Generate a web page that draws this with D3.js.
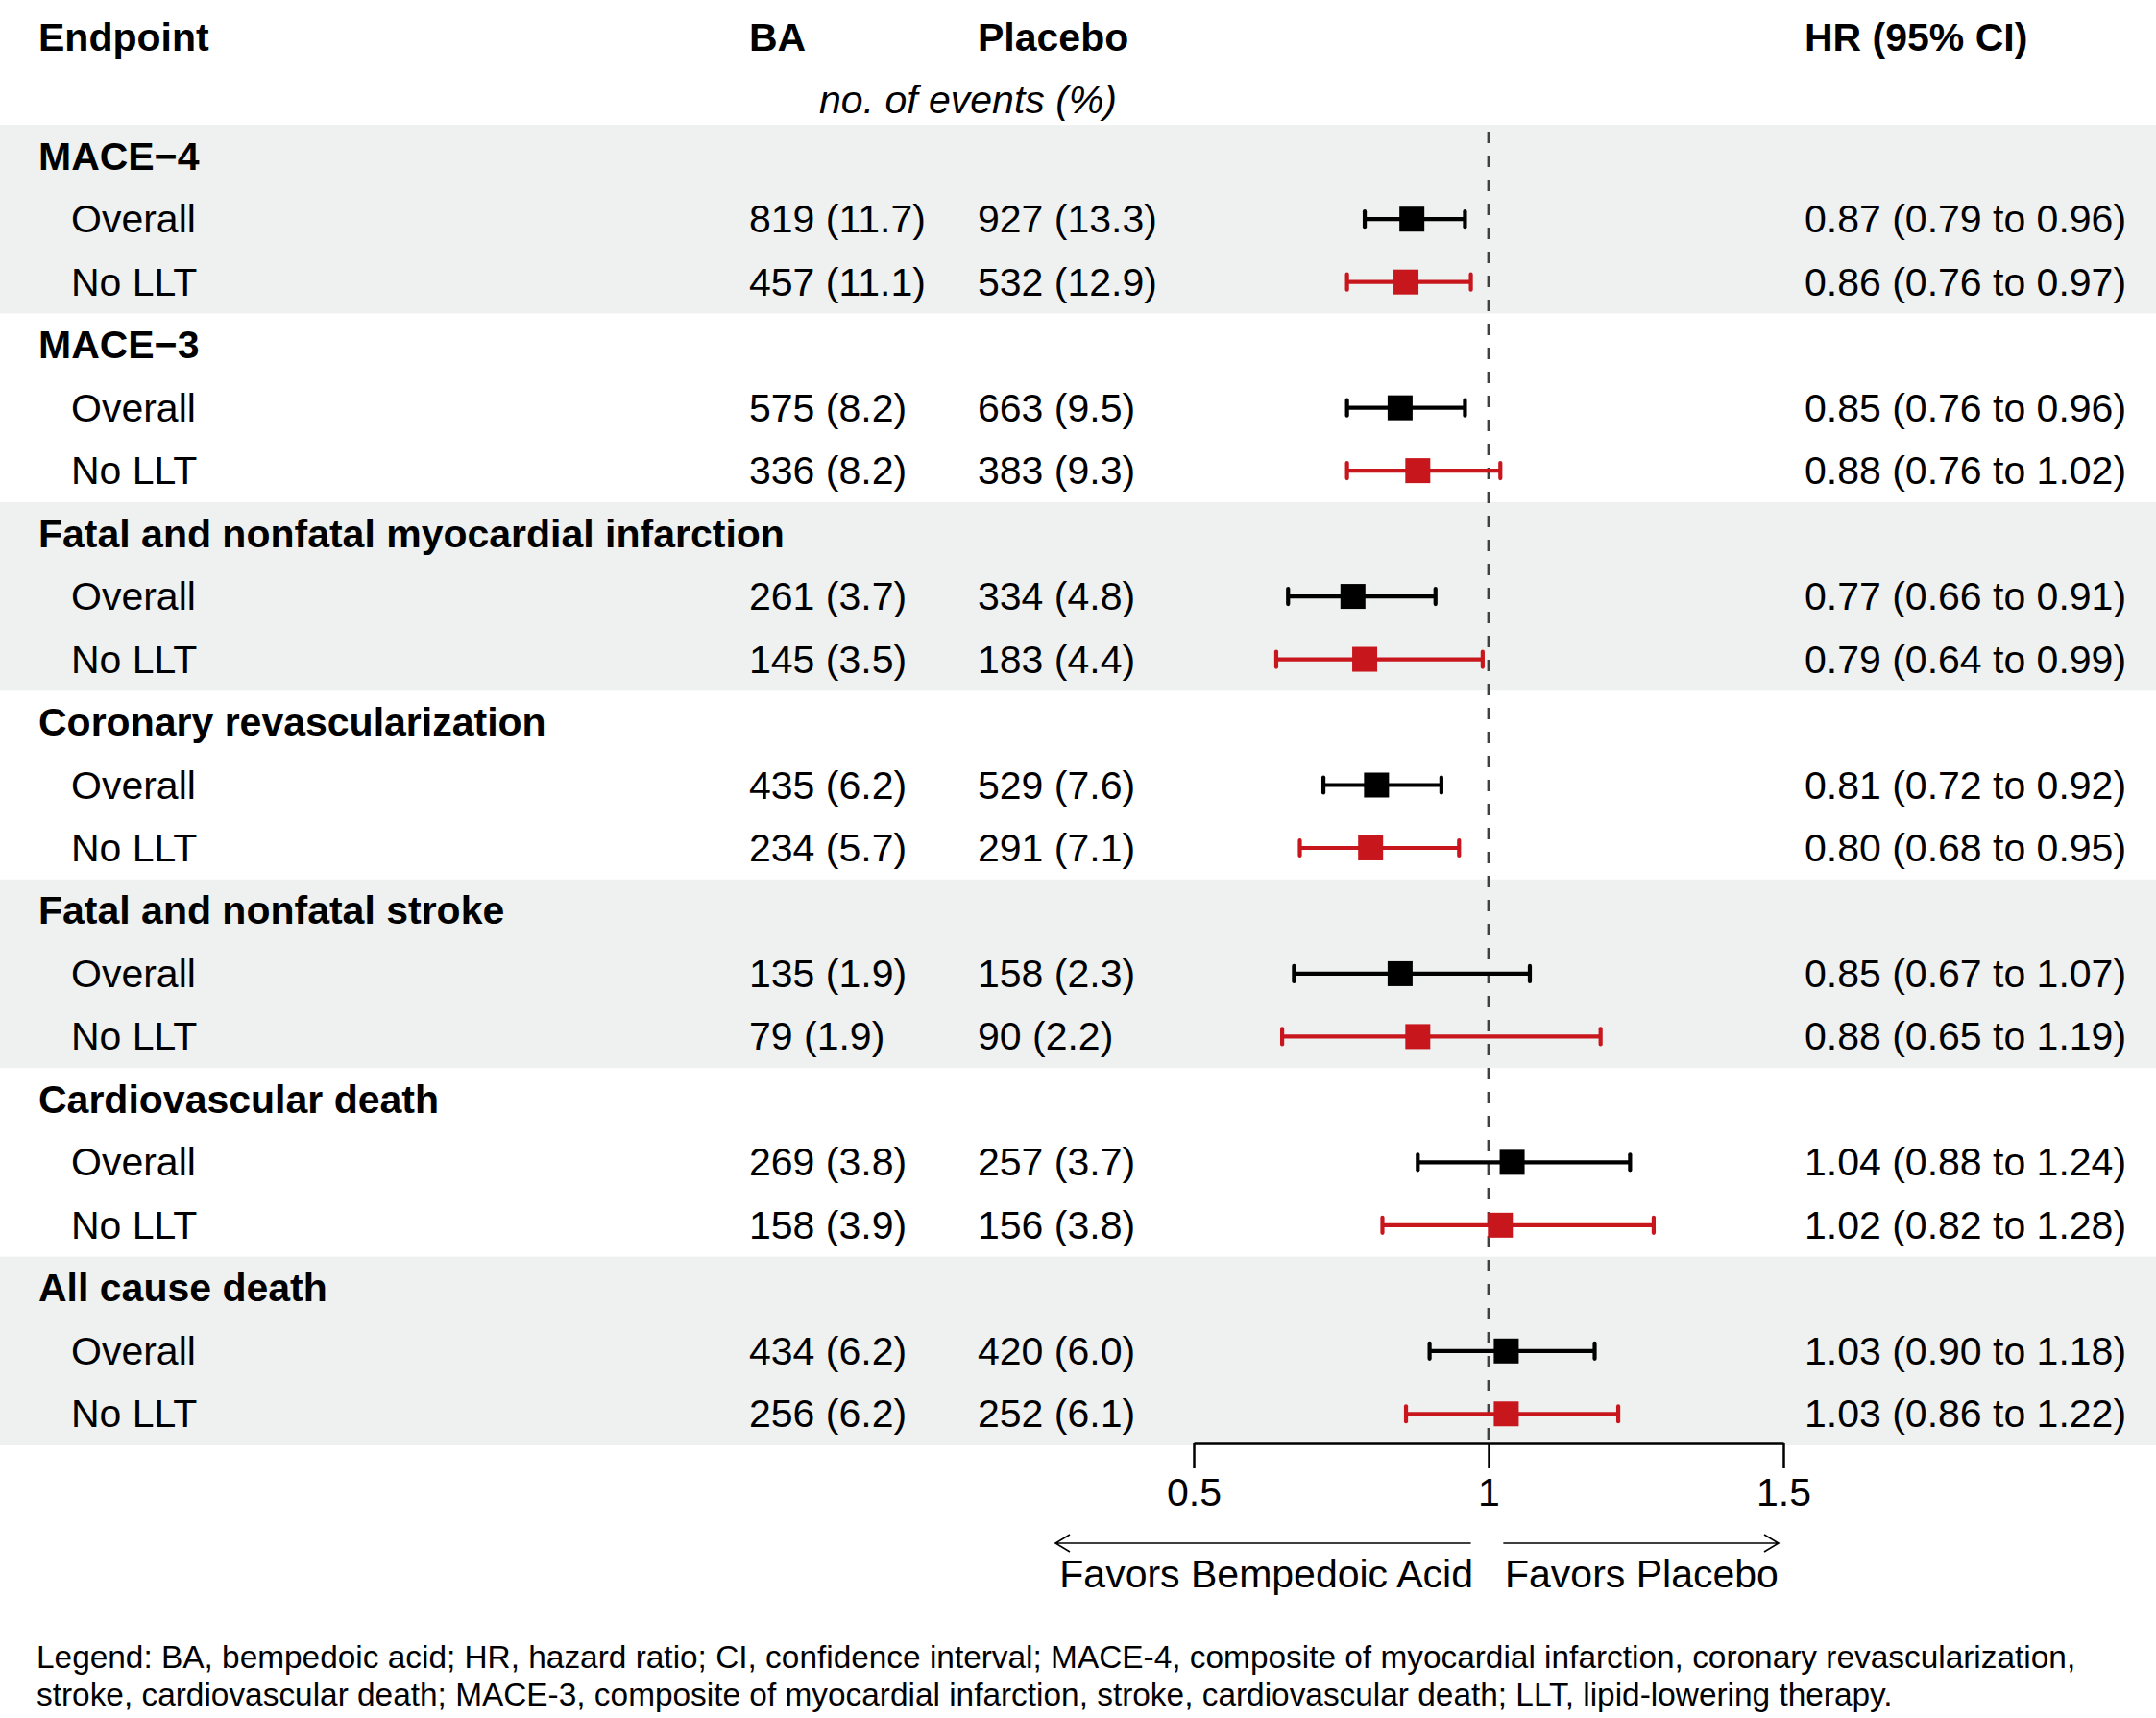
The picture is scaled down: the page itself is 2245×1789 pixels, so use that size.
<!DOCTYPE html>
<html>
<head>
<meta charset="utf-8">
<script src="https://cdn.jsdelivr.net/npm/d3@7"></script>
<style>
  body { margin: 0; background: #fff; }
  text { font-family: "Liberation Sans", Arial, Helvetica, sans-serif; }
</style>
</head>
<body>
<div id="vis"></div>
<script>
// endpoints and subgroups
const endpoints = [
  "MACE\u22124",
  "MACE\u22123",
  "Fatal and nonfatal myocardial infarction",
  "Coronary revascularization",
  "Fatal and nonfatal stroke",
  "Cardiovascular death",
  "All cause death"
];
const subgroups = ["Overall", "No LLT"];

// no. of events (%), two values per endpoint: Overall, No LLT
const baEvents = [[819, 457], [575, 336], [261, 145], [435, 234], [135, 79], [269, 158], [434, 256]];
const baPct = [[11.7, 11.1], [8.2, 8.2], [3.7, 3.5], [6.2, 5.7], [1.9, 1.9], [3.8, 3.9], [6.2, 6.2]];
const plEvents = [[927, 532], [663, 383], [334, 183], [529, 291], [158, 90], [257, 156], [420, 252]];
const plPct = [[13.3, 12.9], [9.5, 9.3], [4.8, 4.4], [7.6, 7.1], [2.3, 2.2], [3.7, 3.8], [6.0, 6.1]];

// hazard ratios and 95% CI
const hr = [[0.87, 0.86], [0.85, 0.88], [0.77, 0.79], [0.81, 0.80], [0.85, 0.88], [1.04, 1.02], [1.03, 1.03]];
const ciLow = [[0.79, 0.76], [0.76, 0.76], [0.66, 0.64], [0.72, 0.68], [0.67, 0.65], [0.88, 0.82], [0.90, 0.86]];
const ciHigh = [[0.96, 0.97], [0.96, 1.02], [0.91, 0.99], [0.92, 0.95], [1.07, 1.19], [1.24, 1.28], [1.18, 1.22]];

const ticks = [0.5, 1, 1.5];
const legendLines = [
  "Legend: BA, bempedoic acid; HR, hazard ratio; CI, confidence interval; MACE-4, composite of myocardial infarction, coronary revascularization,",
  "stroke, cardiovascular death; MACE-3, composite of myocardial infarction, stroke, cardiovascular death; LLT, lipid-lowering therapy."
];

function createVis() {
  const width = 2245;
  const height = 1789;
  const fs = 41;
  const red = "#c8161d";

  const svg = d3.select("#vis")
    .append("svg")
    .attr("width", width)
    .attr("height", height)
    .attr("viewBox", [0, 0, width, height]);

  // build the table rows: a header row for every endpoint, then its subgroups
  const rows = [];
  endpoints.forEach((name, g) => {
    rows.push({ type: "head", g, label: name });
    subgroups.forEach((s, k) => {
      rows.push({
        type: "sub", g, k, label: s,
        ba: `${baEvents[g][k]} (${baPct[g][k].toFixed(1)})`,
        pl: `${plEvents[g][k]} (${plPct[g][k].toFixed(1)})`,
        hr: hr[g][k], lo: ciLow[g][k], hi: ciHigh[g][k],
        color: k === 0 ? "#000" : red
      });
    });
  });

  const y = d3.scaleBand()
    .domain(d3.range(rows.length))
    .range([130, 1505])
    .paddingInner(0);
  const bw = y.bandwidth();
  const cy = i => y(i) + bw / 2;

  const x = d3.scaleLinear()
    .domain([0.5, 1.5])
    .range([1243, 1857]);

  // shaded bands for alternating endpoints
  svg.append("g")
    .selectAll("rect")
    .data(endpoints.map((d, g) => g).filter(g => g % 2 === 0))
    .join("rect")
    .attr("x", 0)
    .attr("width", width)
    .attr("y", g => y(g * 3))
    .attr("height", bw * 3)
    .attr("fill", "#eef1f0");

  // column headers
  const head = svg.append("g")
    .attr("font-size", fs)
    .attr("font-weight", "bold");
  head.append("text").attr("x", 40).attr("y", 53).text("Endpoint");
  head.append("text").attr("x", 780).attr("y", 53).text("BA");
  head.append("text").attr("x", 1018).attr("y", 53).text("Placebo");
  head.append("text").attr("x", 1879).attr("y", 53).text("HR (95% CI)");
  svg.append("text")
    .attr("x", 1008).attr("y", 118)
    .attr("text-anchor", "middle")
    .attr("font-size", fs)
    .attr("font-style", "italic")
    .text("no. of events (%)");

  // row labels and values
  const rowG = svg.append("g")
    .attr("font-size", fs)
    .selectAll("g")
    .data(rows)
    .join("g")
    .attr("transform", (d, i) => `translate(0,${cy(i) + 14})`);

  rowG.append("text")
    .attr("x", d => d.type === "head" ? 40 : 74)
    .attr("font-weight", d => d.type === "head" ? "bold" : null)
    .text(d => d.label);

  const subs = rowG.filter(d => d.type === "sub");
  subs.append("text").attr("x", 780).text(d => d.ba);
  subs.append("text").attr("x", 1018).text(d => d.pl);
  subs.append("text").attr("x", 1879)
    .text(d => `${d.hr.toFixed(2)} (${d.lo.toFixed(2)} to ${d.hi.toFixed(2)})`);

  // reference line at HR = 1
  svg.append("line")
    .attr("x1", x(1)).attr("x2", x(1))
    .attr("y1", 137).attr("y2", 1503)
    .attr("stroke", "#404040")
    .attr("stroke-width", 2.8)
    .attr("stroke-dasharray", "12,13");

  // confidence intervals and point estimates
  const marks = svg.append("g")
    .selectAll("g")
    .data(rows.map((d, i) => ({ ...d, i })).filter(d => d.type === "sub"))
    .join("g")
    .attr("transform", d => `translate(0,${cy(d.i)})`);

  marks.append("line")
    .attr("x1", d => x(d.lo)).attr("x2", d => x(d.hi))
    .attr("stroke", d => d.color)
    .attr("stroke-width", 4.2);
  marks.selectAll(".cap")
    .data(d => [d.lo, d.hi].map(v => ({ v, color: d.color })))
    .join("line")
    .attr("class", "cap")
    .attr("x1", d => x(d.v)).attr("x2", d => x(d.v))
    .attr("y1", -8).attr("y2", 8)
    .attr("stroke", d => d.color)
    .attr("stroke-width", 4.2)
    .attr("stroke-linecap", "round");
  marks.append("rect")
    .attr("x", d => x(d.hr) - 13)
    .attr("y", -13)
    .attr("width", 26)
    .attr("height", 26)
    .attr("fill", d => d.color);

  // x axis
  const axis = svg.append("g")
    .attr("transform", "translate(0,1503)")
    .call(d3.axisBottom(x)
      .tickValues(ticks)
      .tickSize(26)
      .tickSizeOuter(0)
      .tickPadding(10)
      .tickFormat(d => d));
  axis.select(".domain").attr("stroke", "#000").attr("stroke-width", 2.5);
  axis.selectAll(".tick line").attr("stroke", "#000").attr("stroke-width", 2.5);
  axis.selectAll(".tick text")
    .attr("fill", "#000")
    .attr("font-size", fs)
    .attr("font-family", "'Liberation Sans', Arial, sans-serif");

  // direction arrows
  const arrowY = 1607;
  const arrows = svg.append("g")
    .attr("stroke", "#000")
    .attr("stroke-width", 1.6)
    .attr("fill", "none");
  arrows.append("path")
    .attr("d", `M${x(0.97)},${arrowY}H1099M1114,${arrowY - 9}L1099,${arrowY}L1114,${arrowY + 9}`);
  arrows.append("path")
    .attr("d", `M${x(1.025)},${arrowY}H1852M1837,${arrowY - 9}L1852,${arrowY}L1837,${arrowY + 9}`);

  svg.append("text")
    .attr("x", 1534).attr("y", 1653)
    .attr("text-anchor", "end")
    .attr("font-size", fs)
    .text("Favors Bempedoic Acid");
  svg.append("text")
    .attr("x", 1567).attr("y", 1653)
    .attr("font-size", fs)
    .text("Favors Placebo");

  // legend footnote
  svg.append("g")
    .attr("font-size", 33.4)
    .selectAll("text")
    .data(legendLines)
    .join("text")
    .attr("x", 38)
    .attr("y", (d, i) => 1737 + i * 39)
    .text(d => d);
}

window.addEventListener("load", createVis);
</script>
</body>
</html>
